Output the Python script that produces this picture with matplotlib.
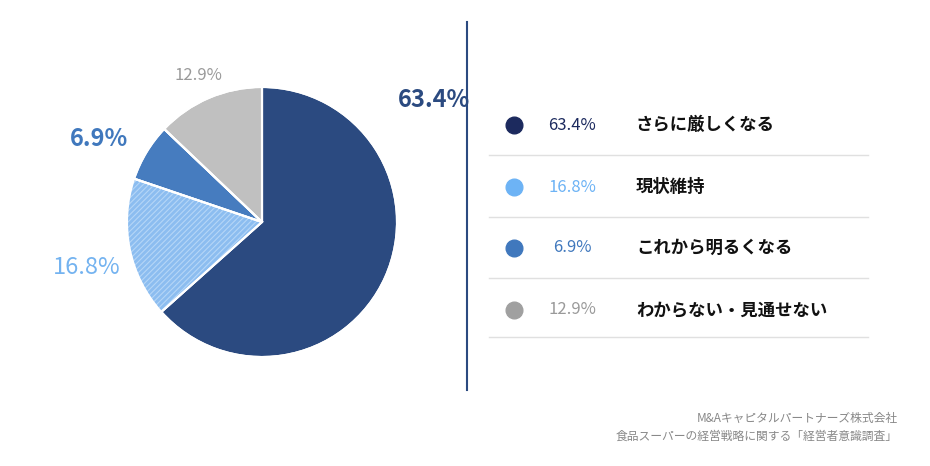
import matplotlib.pyplot as plt
from matplotlib.lines import Line2D

plt.rcParams['font.family'] = 'Noto Sans CJK JP'
plt.rcParams['hatch.linewidth'] = 0.8

# --- Data ---
labels = ['さらに厳しくなる', '現状維持', 'これから明るくなる', 'わからない・見通せない']
values = [63.4, 16.8, 6.9, 12.9]
slice_colors = ['#2b4a80', '#8cbdf0', '#467cbf', '#c0c0c0']
dot_colors = ['#1c2a5e', '#6db3f5', '#4078bd', '#a0a0a0']
pct_colors = ['#1c2a5e', '#6db3f5', '#4078bd', '#9a9a9a']

W, H = 930, 466
fig = plt.figure(figsize=(W / 100, H / 100), dpi=100)
fig.patch.set_facecolor('white')


def fx(x):
    return x / W


def fy(y):
    return 1 - y / H


# --- Pie ---
cx, cy = 262, 222
ax = fig.add_axes([fx(cx - 140), fy(cy + 140), 280 / W, 280 / H])
wedges, _ = ax.pie(values, colors=slice_colors, startangle=90, counterclock=False,
                   radius=135 / 140, wedgeprops=dict(edgecolor='white', linewidth=1.5))
wedges[1].set_hatch('//////')
wedges[1].set_edgecolor('#b5d6f7')
wedges[1].set_linewidth(0)
# white outlines on top of the hatched slice
ax.pie(values, colors=['none'] * len(values), startangle=90, counterclock=False, radius=135 / 140,
       wedgeprops=dict(edgecolor='white', linewidth=1.5, fill=False))
ax.set_xlim(-1, 1)
ax.set_ylim(-1, 1)
ax.set_aspect('equal')
ax.axis('off')

# outer labels
fig.text(fx(398), fy(100), f'{values[0]}%', color='#2b4a80', fontsize=17, fontweight='bold', va='center')
fig.text(fx(128), fy(139), f'{values[2]}%', color='#4078bd', fontsize=17, fontweight='bold', va='center', ha='right')
fig.text(fx(120), fy(267), f'{values[1]}%', color='#74b3f0', fontsize=17, va='center', ha='right')
fig.text(fx(198), fy(76), f'{values[3]}%', color='#9a9a9a', fontsize=12, va='center', ha='center')

# divider
fig.add_artist(Line2D([fx(467), fx(467)], [fy(22), fy(390)], color='#2b4a80', linewidth=1.5))

# --- Legend table ---
row_y = [125, 187, 248, 310]
sep_y = [155, 217, 278, 337]
for i, y in enumerate(row_y):
    fig.add_artist(Line2D([fx(514)], [fy(y)], marker='o', markersize=12, color=dot_colors[i],
                          linestyle='none'))
    fig.text(fx(572), fy(y), f'{values[i]}%', color=pct_colors[i], fontsize=12, va='center', ha='center')
    fig.text(fx(636), fy(y), labels[i], color='#111111', fontsize=12.5, fontweight='bold', va='center')
for y in sep_y:
    fig.add_artist(Line2D([fx(489), fx(868)], [fy(y), fy(y)], color='#e0e0e0', linewidth=1))

# --- Source ---
fig.text(fx(898), fy(418), 'M&Aキャピタルパートナーズ株式会社', color='#888888', fontsize=8.5, ha='right', va='center')
fig.text(fx(898), fy(436), '食品スーパーの経営戦略に関する「経営者意識調査」', color='#888888', fontsize=8.5,
         ha='right', va='center')

fig.savefig('out.png', dpi=100, facecolor='white')
